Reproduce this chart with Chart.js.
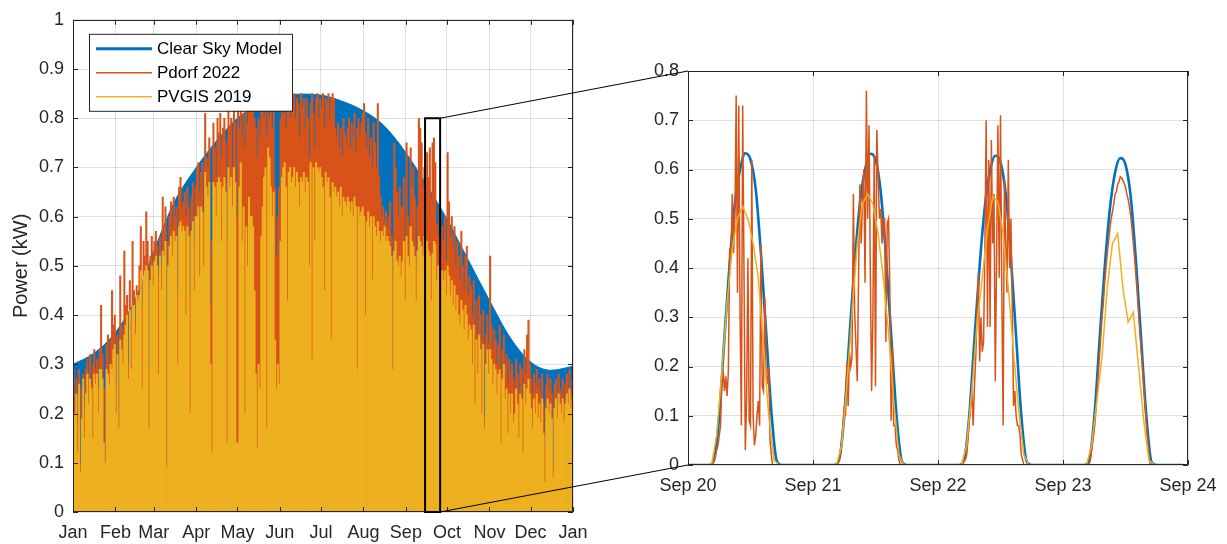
<!DOCTYPE html>
<html>
<head>
<meta charset="utf-8">
<script src="https://cdn.jsdelivr.net/npm/chart.js@4.4.0/dist/chart.umd.min.js"></script>
<style>
  body { margin: 0; background: #fff; }
  #wrap { position: relative; width: 1227px; height: 544px; }
  #wrap canvas { position: absolute; top: 0; }
  #yearChart { left: 0; }
  #zoomChart { left: 600px; }
  #links { left: 0; pointer-events: none; }
</style>
</head>
<body>
<div id="wrap">
  <canvas id="yearChart" width="600" height="544"></canvas>
  <canvas id="zoomChart" width="627" height="544"></canvas>
  <canvas id="links" width="1227" height="544"></canvas>
</div>
<script>
const BLUE = '#0072BD', ORANGE = '#D95319', YELLOW = '#EDB120';
const AXIS = '#262626', GRID = 'rgba(38,38,38,0.15)';

// ---- whole year, daily peak power in kW (day 0 = 1 Jan) ----
const monthStarts = [0, 31, 59, 90, 120, 151, 181, 212, 243, 273, 304, 334, 365];
const monthLabels = ['Jan', 'Feb', 'Mar', 'Apr', 'May', 'Jun', 'Jul', 'Aug', 'Sep', 'Oct', 'Nov', 'Dec', 'Jan'];

const clearSkyDays = [0, 15, 31, 45, 59, 74, 90, 105, 120, 135, 151, 166, 181, 196, 212, 227, 243, 258, 273, 288, 304, 319, 334, 349, 365];
const clearSkyPeak = [0.300, 0.322, 0.365, 0.43, 0.53, 0.63, 0.70, 0.755, 0.80, 0.828, 0.843, 0.849, 0.847, 0.835, 0.815, 0.785, 0.73, 0.665, 0.595, 0.515, 0.43, 0.355, 0.305, 0.288, 0.296];

const pdorfDaily = [
  0.29, 0.24, 0.27, 0.18, 0.29, 0.10, 0.25, 0.28, 0.22, 0.29,
  0.31, 0.28, 0.32, 0.26, 0.30, 0.33, 0.29, 0.31, 0.25, 0.33,
  0.42, 0.32, 0.25, 0.12, 0.34, 0.36, 0.30, 0.35, 0.45, 0.38,
  0.40, 0.25, 0.36, 0.21, 0.48, 0.38, 0.35, 0.53, 0.42, 0.44,
  0.30, 0.47, 0.40, 0.55, 0.45, 0.38, 0.46, 0.44, 0.50, 0.58,
  0.42, 0.55, 0.52, 0.61, 0.55, 0.30, 0.52, 0.56, 0.50, 0.55,
  0.57, 0.54, 0.48, 0.56, 0.50, 0.64, 0.58, 0.62, 0.39, 0.55,
  0.60, 0.63, 0.58, 0.64, 0.60, 0.62, 0.45, 0.66, 0.68, 0.62,
  0.63, 0.65, 0.60, 0.66, 0.62, 0.44, 0.64, 0.67, 0.55, 0.66,
  0.70, 0.71, 0.65, 0.69, 0.71, 0.60, 0.81, 0.72, 0.70, 0.76,
  0.42, 0.55, 0.79, 0.74, 0.68, 0.80, 0.77, 0.81, 0.72, 0.78,
  0.80, 0.75, 0.55, 0.82, 0.78, 0.80, 0.70, 0.83, 0.79, 0.60,
  0.82, 0.78, 0.84, 0.76, 0.81, 0.74, 0.83, 0.79, 0.84, 0.82,
  0.84, 0.82, 0.80, 0.78, 0.72, 0.80, 0.76, 0.82, 0.84, 0.80,
  0.83, 0.76, 0.85, 0.80, 0.84, 0.78, 0.82, 0.66, 0.52, 0.60,
  0.66, 0.80, 0.84, 0.81, 0.85, 0.78, 0.83, 0.84, 0.80, 0.84,
  0.82, 0.85, 0.80, 0.84, 0.83, 0.76, 0.85, 0.82, 0.84, 0.78,
  0.84, 0.80, 0.72, 0.83, 0.85, 0.81, 0.74, 0.84, 0.85, 0.80,
  0.84, 0.82, 0.85, 0.78, 0.84, 0.83, 0.85, 0.80, 0.84, 0.85,
  0.84, 0.78, 0.76, 0.79, 0.74, 0.78, 0.72, 0.80, 0.77, 0.75,
  0.78, 0.80, 0.74, 0.79, 0.76, 0.81, 0.73, 0.78, 0.80, 0.76,
  0.79, 0.81, 0.83, 0.77, 0.74, 0.80, 0.72, 0.76, 0.70, 0.79,
  0.75, 0.70, 0.83, 0.68, 0.64, 0.60, 0.62, 0.59, 0.61, 0.58,
  0.60, 0.63, 0.56, 0.48, 0.75, 0.70, 0.65, 0.60, 0.66, 0.62,
  0.62, 0.68, 0.55, 0.75, 0.60, 0.58, 0.74, 0.66, 0.70, 0.64,
  0.50, 0.62, 0.80, 0.78, 0.75, 0.66, 0.70, 0.60, 0.73, 0.68,
  0.74, 0.64, 0.75, 0.76, 0.71, 0.585, 0.56, 0.62, 0.52, 0.58,
  0.55, 0.60, 0.51, 0.73, 0.63, 0.56, 0.60, 0.54, 0.58, 0.50,
  0.55, 0.52, 0.47, 0.57, 0.50, 0.45, 0.52, 0.54, 0.44, 0.48,
  0.46, 0.40, 0.47, 0.38, 0.43, 0.36, 0.44, 0.40, 0.35, 0.41,
  0.19, 0.36, 0.40, 0.34, 0.52, 0.38, 0.33, 0.37, 0.35, 0.30,
  0.34, 0.38, 0.28, 0.33, 0.36, 0.30, 0.32, 0.26, 0.31, 0.28,
  0.30, 0.27, 0.25, 0.31, 0.28, 0.24, 0.30, 0.29, 0.23, 0.33,
  0.28, 0.36, 0.39, 0.30, 0.27, 0.24, 0.28, 0.26, 0.29, 0.25,
  0.27, 0.24, 0.28, 0.22, 0.15, 0.26, 0.28, 0.25, 0.27, 0.24,
  0.10, 0.26, 0.27, 0.23, 0.28, 0.25, 0.24, 0.27, 0.22, 0.26,
  0.28, 0.25, 0.29, 0.24, 0.27
];

const pvgisDaily = [
  0.07, 0.20, 0.24, 0.12, 0.26, 0.08, 0.19, 0.27, 0.15, 0.24,
  0.28, 0.22, 0.27, 0.25, 0.15, 0.28, 0.26, 0.28, 0.20, 0.29,
  0.29, 0.27, 0.14, 0.10, 0.29, 0.28, 0.26, 0.30, 0.29, 0.33,
  0.34, 0.20, 0.32, 0.17, 0.35, 0.33, 0.30, 0.36, 0.38, 0.40,
  0.27, 0.41, 0.29, 0.42, 0.42, 0.36, 0.44, 0.43, 0.44, 0.49,
  0.25, 0.48, 0.49, 0.50, 0.49, 0.17, 0.47, 0.50, 0.46, 0.51,
  0.52, 0.50, 0.28, 0.52, 0.45, 0.53, 0.52, 0.55, 0.09, 0.50,
  0.54, 0.56, 0.52, 0.57, 0.55, 0.56, 0.30, 0.58, 0.59, 0.57,
  0.58, 0.57, 0.40, 0.58, 0.56, 0.20, 0.57, 0.59, 0.45, 0.60,
  0.60, 0.62, 0.48, 0.62, 0.61, 0.50, 0.69, 0.66, 0.64, 0.67,
  0.30, 0.12, 0.67, 0.66, 0.60, 0.67, 0.68, 0.67, 0.55, 0.66,
  0.68, 0.65, 0.14, 0.70, 0.66, 0.68, 0.62, 0.70, 0.67, 0.14,
  0.14, 0.66, 0.71, 0.55, 0.62, 0.20, 0.58, 0.50, 0.64, 0.60,
  0.60, 0.58, 0.45, 0.28, 0.13, 0.30, 0.25, 0.56, 0.62, 0.68,
  0.70, 0.17, 0.74, 0.72, 0.66, 0.60, 0.65, 0.35, 0.25, 0.30,
  0.26, 0.55, 0.68, 0.70, 0.71, 0.66, 0.43, 0.69, 0.70, 0.67,
  0.68, 0.70, 0.66, 0.69, 0.67, 0.62, 0.68, 0.67, 0.69, 0.65,
  0.68, 0.67, 0.50, 0.71, 0.31, 0.70, 0.55, 0.71, 0.70, 0.69,
  0.70, 0.68, 0.66, 0.45, 0.69, 0.67, 0.68, 0.64, 0.35, 0.67,
  0.65, 0.66, 0.64, 0.65, 0.62, 0.66, 0.60, 0.64, 0.63, 0.62,
  0.64, 0.63, 0.61, 0.63, 0.60, 0.64, 0.62, 0.29, 0.62, 0.60,
  0.61, 0.62, 0.60, 0.40, 0.59, 0.61, 0.58, 0.60, 0.47, 0.60,
  0.58, 0.56, 0.59, 0.57, 0.55, 0.57, 0.56, 0.58, 0.55, 0.56,
  0.55, 0.54, 0.52, 0.29, 0.53, 0.55, 0.51, 0.50, 0.52, 0.48,
  0.51, 0.55, 0.43, 0.56, 0.52, 0.50, 0.58, 0.55, 0.54, 0.52,
  0.43, 0.53, 0.56, 0.55, 0.54, 0.52, 0.56, 0.40, 0.55, 0.53,
  0.52, 0.43, 0.525, 0.55, 0.545, 0.47, 0.50, 0.48, 0.45, 0.49,
  0.47, 0.49, 0.44, 0.50, 0.48, 0.44, 0.47, 0.42, 0.46, 0.41,
  0.44, 0.40, 0.38, 0.43, 0.41, 0.37, 0.42, 0.40, 0.35, 0.38,
  0.37, 0.30, 0.38, 0.22, 0.35, 0.28, 0.36, 0.33, 0.20, 0.34,
  0.17, 0.30, 0.33, 0.28, 0.33, 0.31, 0.26, 0.30, 0.29, 0.24,
  0.28, 0.29, 0.14, 0.27, 0.30, 0.23, 0.25, 0.16, 0.24, 0.20,
  0.24, 0.18, 0.20, 0.25, 0.22, 0.15, 0.24, 0.23, 0.12, 0.26,
  0.22, 0.25, 0.27, 0.24, 0.21, 0.17, 0.23, 0.20, 0.24, 0.19,
  0.22, 0.18, 0.23, 0.16, 0.06, 0.21, 0.23, 0.20, 0.22, 0.19,
  0.07, 0.21, 0.23, 0.19, 0.24, 0.22, 0.20, 0.23, 0.18, 0.22,
  0.24, 0.22, 0.25, 0.21, 0.23
];

// framed section of the year, in days and kW
const zoomBox = { from: 257, to: 268, top: 0.8 };

// ---- 20-23 Sep, hours since 20 Sep 00:00 (UTC) ----
const dayTicks = [0, 24, 48, 72, 96];
const dayLabels = ['Sep 20', 'Sep 21', 'Sep 22', 'Sep 23', 'Sep 24'];

const clearSkyHourly = [
  0, 0, 0, 0, 0, 0.01, 0.10, 0.26, 0.41, 0.53, 0.60, 0.633, 0.62, 0.56, 0.43, 0.27, 0.11, 0.01, 0, 0, 0, 0, 0, 0,
  0, 0, 0, 0, 0, 0.01, 0.10, 0.26, 0.41, 0.53, 0.60, 0.632, 0.62, 0.555, 0.425, 0.265, 0.105, 0.01, 0, 0, 0, 0, 0, 0,
  0, 0, 0, 0, 0, 0.01, 0.10, 0.255, 0.405, 0.525, 0.598, 0.628, 0.615, 0.55, 0.42, 0.26, 0.10, 0.008, 0, 0, 0, 0, 0, 0,
  0, 0, 0, 0, 0, 0.008, 0.095, 0.25, 0.40, 0.52, 0.594, 0.623, 0.61, 0.545, 0.415, 0.255, 0.10, 0.006, 0, 0, 0, 0, 0, 0
];

// PVGIS hourly values are stamped at half past the hour
const pvgisHourly = [
  0, 0, 0, 0, 0, 0.06, 0.19, 0.33, 0.44, 0.50, 0.525, 0.50, 0.45, 0.38, 0.24, 0.10, 0.01, 0, 0, 0, 0, 0, 0, 0,
  0, 0, 0, 0, 0, 0.04, 0.16, 0.31, 0.45, 0.53, 0.55, 0.53, 0.47, 0.38, 0.27, 0.13, 0.02, 0, 0, 0, 0, 0, 0, 0,
  0, 0, 0, 0, 0, 0.04, 0.15, 0.29, 0.38, 0.48, 0.545, 0.535, 0.47, 0.36, 0.23, 0.11, 0.02, 0, 0, 0, 0, 0, 0, 0,
  0, 0, 0, 0, 0, 0.04, 0.13, 0.22, 0.36, 0.45, 0.47, 0.36, 0.29, 0.31, 0.20, 0.09, 0.01, 0, 0, 0, 0, 0, 0, 0
];

// Pdorf logger, 15 min samples from 04:30 each day, zero at midnight
const pdorfFirstSample = 4.5;
const pdorfLastSample = 95.75;
const pdorfSep20 = [0, 0, 0.01, 0.02, 0.03, 0.04, 0.06, 0.08, 0.17, 0.19, 0.15, 0.18, 0.14, 0.19, 0.44, 0.42, 0.55, 0.43, 0.50, 0.75, 0.35, 0.73, 0.30, 0.08, 0.73, 0.40, 0.03, 0.13, 0.42, 0.09, 0.08, 0.62, 0.10, 0.04, 0.06, 0.10, 0.13, 0.08, 0.45, 0.16, 0.15, 0.34, 0.18, 0.17, 0.20, 0.05, 0.02, 0, 0];
const pdorfSep21 = [0, 0, 0.01, 0.02, 0.04, 0.08, 0.12, 0.10, 0.21, 0.12, 0.23, 0.20, 0.22, 0.55, 0.31, 0.24, 0.17, 0.38, 0.57, 0.45, 0.53, 0.60, 0.37, 0.76, 0.50, 0.69, 0.40, 0.15, 0.30, 0.63, 0.16, 0.68, 0.59, 0.50, 0.52, 0.45, 0.50, 0.50, 0.25, 0.49, 0.50, 0.36, 0.09, 0.24, 0.08, 0.08, 0.04, 0.03, 0.01, 0, 0];
const pdorfSep22 = [0, 0, 0.01, 0.01, 0.02, 0.05, 0.09, 0.12, 0.15, 0.08, 0.16, 0.22, 0.31, 0.39, 0.21, 0.30, 0.23, 0.25, 0.44, 0.70, 0.28, 0.62, 0.28, 0.66, 0.45, 0.55, 0.17, 0.42, 0.69, 0.38, 0.71, 0.36, 0.08, 0.58, 0.45, 0.35, 0.62, 0.40, 0.50, 0.33, 0.12, 0.15, 0.10, 0.08, 0.08, 0.06, 0.02, 0.01, 0, 0];
const pdorfSep23 = [0, 0, 0, 0.01, 0.03, 0.05, 0.07, 0.10, 0.14, 0.18, 0.22, 0.26, 0.30, 0.33, 0.37, 0.40, 0.43, 0.455, 0.48, 0.50, 0.515, 0.53, 0.55, 0.555, 0.57, 0.575, 0.585, 0.583, 0.578, 0.572, 0.565, 0.55, 0.54, 0.525, 0.505, 0.48, 0.45, 0.42, 0.385, 0.35, 0.31, 0.27, 0.235, 0.20, 0.16, 0.12, 0.085, 0.05, 0.02, 0];

const FONT = '"Liberation Sans", Arial, sans-serif';
Chart.defaults.font.family = FONT;
Chart.defaults.font.size = 18;
Chart.defaults.color = AXIS;

// box around the plot area with inward tick marks on all four sides
const boxedAxes = {
  id: 'boxedAxes',
  afterDatasetsDraw(chart) {
    const { ctx, chartArea: a, scales: { x, y } } = chart;
    const len = 5;
    ctx.save();
    ctx.strokeStyle = AXIS;
    ctx.lineWidth = 1;
    ctx.beginPath();
    x.ticks.forEach(t => {
      const px = Math.round(x.getPixelForValue(t.value)) + 0.5;
      ctx.moveTo(px, a.bottom); ctx.lineTo(px, a.bottom - len);
      ctx.moveTo(px, a.top); ctx.lineTo(px, a.top + len);
    });
    y.ticks.forEach(t => {
      const py = Math.round(y.getPixelForValue(t.value)) + 0.5;
      ctx.moveTo(a.left, py); ctx.lineTo(a.left + len, py);
      ctx.moveTo(a.right, py); ctx.lineTo(a.right - len, py);
    });
    ctx.rect(Math.round(a.left) + 0.5, Math.round(a.top) + 0.5, Math.round(a.width) - 1, Math.round(a.height) - 1);
    ctx.stroke();
    ctx.restore();
  }
};

// black frame marking the days shown on the right
const sectionFrame = {
  id: 'sectionFrame',
  afterDatasetsDraw(chart) {
    const { ctx, scales: { x, y } } = chart;
    const l = x.getPixelForValue(zoomBox.from), r = x.getPixelForValue(zoomBox.to);
    const t = y.getPixelForValue(zoomBox.top), b = y.getPixelForValue(0);
    ctx.save();
    ctx.strokeStyle = '#000';
    ctx.lineWidth = 2;
    ctx.strokeRect(l, t, r - l, b - t);
    ctx.restore();
  }
};

// legend box in the upper left corner of the plot
const boxLegend = {
  id: 'boxLegend',
  afterDraw(chart) {
    const { ctx, chartArea: a } = chart;
    const left = a.left + 16, top = a.top + 14, w = 203, h = 77;
    ctx.save();
    ctx.fillStyle = '#fff';
    ctx.fillRect(left, top, w, h);
    ctx.strokeStyle = AXIS;
    ctx.lineWidth = 1;
    ctx.strokeRect(left + 0.5, top + 0.5, w, h);
    ctx.font = '17px ' + FONT;
    ctx.textBaseline = 'middle';
    chart.data.datasets.forEach((ds, i) => {
      const yy = top + 15 + i * 24;
      ctx.strokeStyle = ds.legendColor;
      ctx.lineWidth = ds.legendWidth;
      ctx.beginPath();
      ctx.moveTo(left + 7, yy);
      ctx.lineTo(left + 63, yy);
      ctx.stroke();
      ctx.fillStyle = '#000';
      ctx.fillText(ds.label, left + 68, yy + 1);
    });
    ctx.restore();
  }
};

const tickLabel = v => String(+v.toFixed(1));

const yearChart = new Chart(document.getElementById('yearChart'), {
  type: 'bar',
  data: {
    datasets: [
      {
        type: 'line', label: 'Clear Sky Model', order: 3,
        data: clearSkyDays.map((d, i) => ({ x: d, y: clearSkyPeak[i] })),
        borderColor: BLUE, backgroundColor: BLUE, borderWidth: 1, fill: 'origin',
        pointRadius: 0, cubicInterpolationMode: 'monotone',
        legendColor: BLUE, legendWidth: 3
      },
      {
        label: 'Pdorf 2022', order: 2,
        data: pdorfDaily.map((v, d) => ({ x: d + 0.5, y: v })),
        backgroundColor: ORANGE, borderWidth: 0, grouped: false,
        barPercentage: 1, categoryPercentage: 1,
        legendColor: ORANGE, legendWidth: 1.5
      },
      {
        label: 'PVGIS 2019', order: 1,
        data: pvgisDaily.map((v, d) => ({ x: d + 0.5, y: v })),
        backgroundColor: YELLOW, borderWidth: 0, grouped: false,
        barPercentage: 1, categoryPercentage: 1,
        legendColor: YELLOW, legendWidth: 1.5
      }
    ]
  },
  options: {
    responsive: false, animation: false, devicePixelRatio: 1,
    layout: { padding: { top: 19, right: 27, left: 0, bottom: 0 } },
    plugins: { legend: { display: false }, tooltip: { enabled: false } },
    scales: {
      x: {
        type: 'linear', min: 0, max: 365, offset: false,
        afterBuildTicks: s => { s.ticks = monthStarts.map(v => ({ value: v })); },
        afterFit: s => { s.height = 32; },
        grid: { color: GRID, drawTicks: false, offset: false },
        border: { display: false },
        ticks: { padding: 10, maxRotation: 0, autoSkip: false, callback: (v, i) => monthLabels[i] }
      },
      y: {
        min: 0, max: 1,
        afterFit: s => { s.width = 73; },
        grid: { color: GRID, drawTicks: false },
        border: { display: false },
        ticks: { stepSize: 0.1, padding: 9, callback: tickLabel },
        title: { display: true, text: 'Power (kW)', font: { size: 20 }, padding: { top: 9 } }
      }
    }
  },
  plugins: [boxedAxes, sectionFrame, boxLegend]
});

const pdorfPoints = [];
[pdorfSep20, pdorfSep21, pdorfSep22, pdorfSep23].forEach((day, d) => {
  pdorfPoints.push({ x: d * 24, y: 0 });
  day.forEach((v, i) => pdorfPoints.push({ x: d * 24 + pdorfFirstSample + i * 0.25, y: v }));
});
pdorfPoints.push({ x: pdorfLastSample, y: 0 });

const zoomChart = new Chart(document.getElementById('zoomChart'), {
  type: 'line',
  data: {
    datasets: [
      {
        label: 'Clear Sky Model', order: 3,
        data: clearSkyHourly.map((v, h) => ({ x: h, y: v })),
        borderColor: BLUE, borderWidth: 2.6, pointRadius: 0,
        cubicInterpolationMode: 'monotone'
      },
      {
        label: 'Pdorf 2022', order: 2,
        data: pdorfPoints,
        borderColor: ORANGE, borderWidth: 1.5, pointRadius: 0
      },
      {
        label: 'PVGIS 2019', order: 1,
        data: pvgisHourly.map((v, h) => ({ x: h + 0.5, y: v })),
        borderColor: YELLOW, borderWidth: 1.5, pointRadius: 0
      }
    ]
  },
  options: {
    responsive: false, animation: false, devicePixelRatio: 1,
    layout: { padding: { top: 71, right: 39, left: 0, bottom: 0 } },
    plugins: { legend: { display: false }, tooltip: { enabled: false } },
    scales: {
      x: {
        type: 'linear', min: 0, max: 96,
        afterBuildTicks: s => { s.ticks = dayTicks.map(v => ({ value: v })); },
        afterFit: s => { s.height = 79; },
        grid: { color: GRID, drawTicks: false },
        border: { display: false },
        ticks: { padding: 10, maxRotation: 0, autoSkip: false, callback: (v, i) => dayLabels[i] }
      },
      y: {
        min: 0, max: 0.8,
        afterFit: s => { s.width = 88; },
        grid: { color: GRID, drawTicks: false },
        border: { display: false },
        ticks: { stepSize: 0.1, padding: 9, callback: tickLabel }
      }
    }
  },
  plugins: [boxedAxes]
});

// lines joining the frame on the left to the detail axes
const zoomCanvas = document.getElementById('zoomChart');
const links = document.getElementById('links').getContext('2d');
const lx = yearChart.scales.x, ly = yearChart.scales.y;
const za = zoomChart.chartArea;
const frameRight = lx.getPixelForValue(zoomBox.to);
links.strokeStyle = '#000';
links.lineWidth = 1;
links.beginPath();
links.moveTo(frameRight, ly.getPixelForValue(zoomBox.top));
links.lineTo(zoomCanvas.offsetLeft + za.left, za.top);
links.moveTo(frameRight, ly.getPixelForValue(0));
links.lineTo(zoomCanvas.offsetLeft + za.left, za.bottom);
links.stroke();
</script>
</body>
</html>
